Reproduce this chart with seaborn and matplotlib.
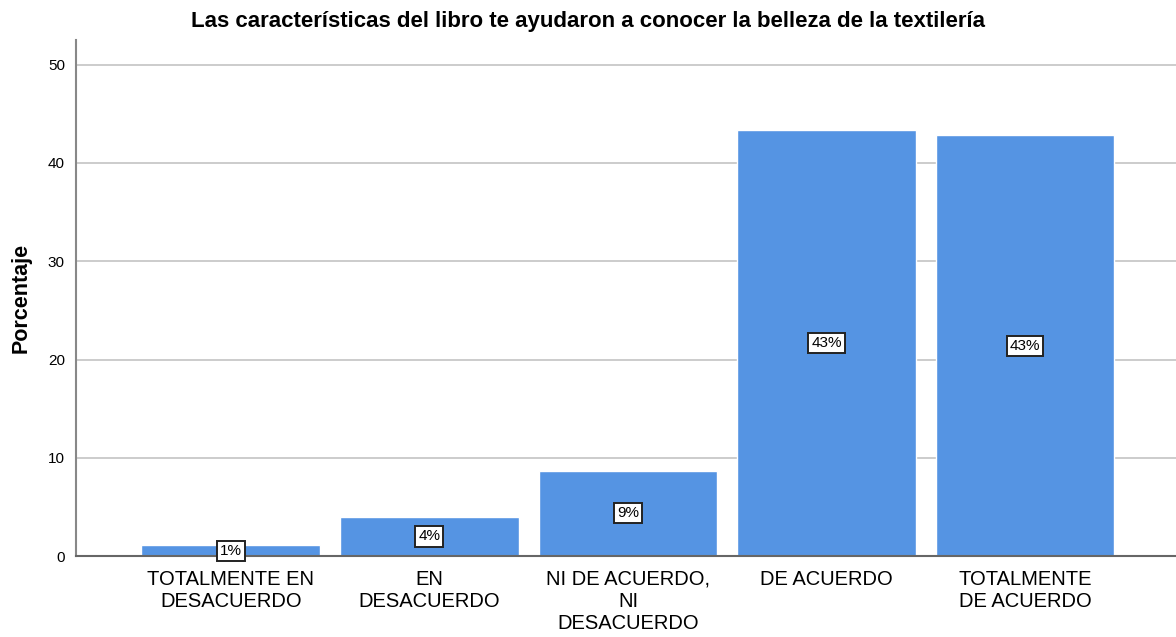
import matplotlib
matplotlib.use("Agg")
import matplotlib.pyplot as plt
import seaborn as sns
import pandas as pd

categorias = ["TOTALMENTE EN\nDESACUERDO", "EN\nDESACUERDO", "NI DE ACUERDO,\nNI\nDESACUERDO",
              "DE ACUERDO", "TOTALMENTE\nDE ACUERDO"]
porcentajes = [1.1, 4.0, 8.7, 43.4, 42.8]

df = pd.DataFrame({"categoria": categorias, "porcentaje": porcentajes})

sns.set_style("white")
plt.rcParams["font.family"] = ["Liberation Sans", "DejaVu Sans"]

fig = plt.figure(figsize=(11.76, 6.37), dpi=100)
ax = fig.add_axes([0.0646, 0.127, 0.9354, 0.81])

sns.barplot(data=df, x="categoria", y="porcentaje", color="#5594E3", saturation=1,
            width=0.9, ax=ax, zorder=2)

for i, v in enumerate(porcentajes):
    ax.text(i, v / 2, f"{round(v)}%", ha="center", va="center", fontsize=11, color="black",
            zorder=3, bbox=dict(boxstyle="square,pad=0.2", fc="white", ec="#222222", lw=1.4))

ax.set_xlim(-0.78, 4.76)
ax.set_ylim(0, 52.5)
ax.set_yticks([0, 10, 20, 30, 40, 50])
ax.set_xticks(range(len(categorias)))
ax.set_xticklabels(categorias, linespacing=1.2)
ax.yaxis.grid(True, color="#c4c4c4", lw=1.2, zorder=0)
ax.set_axisbelow(True)

for s in ["top", "right"]:
    ax.spines[s].set_visible(False)
ax.spines["left"].set_color("#888888")
ax.spines["left"].set_linewidth(1.5)
ax.spines["bottom"].set_color("#666666")
ax.spines["bottom"].set_linewidth(1.5)

ax.tick_params(axis="x", length=0, pad=10, labelsize=14.5, labelcolor="black")
ax.tick_params(axis="y", length=0, pad=8, labelsize=11, labelcolor="black")

ax.set_xlabel("")
ax.set_ylabel("Porcentaje", fontsize=15.5, fontweight="bold", color="black", labelpad=12)
fig.suptitle("Las características del libro te ayudaron a conocer la belleza de la textilería",
             x=0.5, y=0.982, fontsize=16, fontweight="bold", color="black")

fig.savefig("out.png", dpi=100)
